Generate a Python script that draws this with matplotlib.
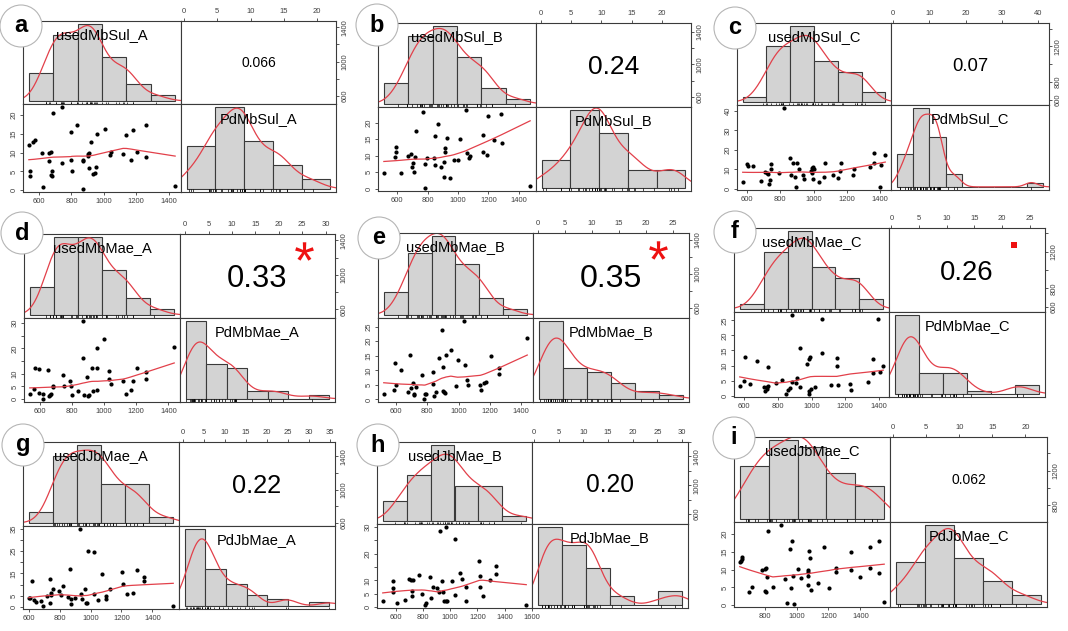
import numpy as np
import matplotlib
matplotlib.use("Agg")
import matplotlib.pyplot as plt
from matplotlib.patches import Circle
from matplotlib.path import Path
from matplotlib.textpath import TextPath
from matplotlib.font_manager import FontProperties
from matplotlib.transforms import ScaledTranslation

plt.rcParams['font.family'] = ['Liberation Sans', 'DejaVu Sans']

#================ DATA =========================================================
# scatter points (used, Pd) for every panel

a_points = [(538, 11.9), (565, 12.7), (573, 13.2), (542, 5.0), (542, 3.9), (623, 0.8),
            (621, 9.9), (662, 9.9), (672, 10.1), (662, 7.7), (672, 4.1), (679, 3.9),
            (683, 5.1), (689, 20.4), (745, 22.0), (745, 7.2), (797, 15.5), (797, 7.9),
            (803, 5.0), (834, 17.4), (869, 0.4), (873, 7.7), (873, 8.1), (900, 9.2),
            (900, 9.7), (907, 10.0), (907, 6.0), (921, 12.8), (932, 4.3), (946, 4.6),
            (952, 6.1), (956, 15.0), (1004, 16.3), (1035, 9.3), (1046, 10.1), (1118, 9.6),
            (1139, 14.7), (1170, 8.1), (1180, 16.1), (1205, 10.1), (1257, 17.4),
            (1257, 8.7), (1439, 1.1)]
b_points = [(513, 4.7), (589, 9.7), (593, 11.1), (593, 12.5), (628, 4.7), (672, 9.9),
            (694, 10.4), (698, 6.4), (705, 7.7), (714, 5.1), (716, 9.7), (727, 17.6),
            (770, 23.1), (781, 0.2), (786, 7.6), (797, 9.2), (840, 9.2), (847, 7.1),
            (851, 16.0), (867, 19.5), (889, 6.5), (906, 3.4), (910, 8.2), (913, 12.3),
            (917, 11.1), (928, 15.2), (950, 3.3), (972, 8.7), (1000, 8.7), (1011, 15.1),
            (1052, 23.8), (1059, 10.8), (1070, 9.2), (1081, 10.0), (1164, 16.3),
            (1164, 11.2), (1190, 10.1), (1197, 22.1), (1238, 14.8), (1284, 22.6),
            (1289, 13.9), (1474, 0.7)]
c_points = [(574, 3.5), (600, 12.7), (606, 11.5), (636, 11.5), (683, 4.0), (709, 8.7),
            (719, 8.0), (725, 7.5), (732, 2.6), (738, 4.5), (742, 12.7), (742, 10.1),
            (790, 8.0), (821, 41.4), (857, 15.8), (863, 7.1), (873, 13.2), (887, 6.3),
            (893, 1.0), (902, 13.2), (912, 10.1), (936, 7.1), (940, 4.9), (985, 9.2),
            (989, 10.6), (989, 8.0), (995, 11.0), (995, 5.2), (1005, 10.1), (1031, 3.5),
            (1060, 6.3), (1070, 13.0), (1118, 7.1), (1149, 5.7), (1157, 8.9), (1167, 13.0),
            (1236, 7.1), (1242, 10.1), (1341, 11.3), (1365, 18.4), (1365, 13.0),
            (1397, 1.0), (1406, 12.2), (1430, 17.6)]
d_points = [(537, 2.0), (564, 4.0), (568, 12.1), (594, 12.0), (596, 2.3), (621, 0.1),
            (621, 2.1), (653, 11.7), (659, 1.3), (663, 1.7), (667, 2.0), (680, 4.6),
            (680, 5.0), (741, 9.6), (747, 5.0), (785, 7.0), (796, 5.0), (800, 1.6),
            (836, 3.3), (867, 30.8), (867, 16.1), (874, 1.7), (895, 8.9), (901, 1.1),
            (905, 1.6), (922, 12.1), (933, 3.1), (954, 3.6), (954, 12.2), (958, 20.2),
            (1000, 23.6), (1032, 11.3), (1032, 8.0), (1042, 6.1), (1116, 7.0), (1133, 2.0),
            (1164, 3.6), (1179, 7.3), (1204, 12.2), (1259, 8.1), (1259, 10.8), (1436, 20.7)]
e_points = [(521, 1.9), (589, 3.4), (596, 12.4), (600, 4.9), (632, 10.1), (674, 2.5),
            (689, 15.1), (696, 3.8), (711, 5.5), (713, 1.5), (717, 1.9), (728, 4.2),
            (764, 8.5), (777, 0.2), (785, 1.9), (791, 1.9), (834, 9.5), (838, 5.4),
            (845, 1.1), (855, 2.5), (877, 14.2), (891, 23.7), (898, 2.9), (902, 11.1),
            (909, 2.5), (915, 2.3), (919, 15.3), (951, 16.9), (983, 4.6), (994, 13.5),
            (1036, 26.9), (1043, 12.0), (1051, 6.6), (1062, 5.0), (1138, 5.0), (1143, 3.4),
            (1164, 5.5), (1174, 5.9), (1211, 14.9), (1260, 10.9), (1260, 8.7), (1440, 21.2)]
f_points = [(574, 3.2), (600, 4.8), (604, 12.8), (634, 3.8), (679, 11.5), (719, 2.9),
            (723, 1.4), (734, 2.9), (738, 2.3), (742, 9.6), (744, 3.2), (788, 4.2),
            (827, 5.3), (851, 0.6), (863, 2.0), (873, 2.5), (887, 26.7), (887, 4.6),
            (906, 4.3), (913, 5.7), (930, 2.9), (932, 15.8), (976, 10.4), (985, 12.2),
            (985, 1.4), (985, 0.6), (991, 12.8), (995, 2.3), (1019, 2.9), (1064, 25.3),
            (1064, 14.1), (1114, 3.7), (1149, 12.4), (1153, 9.8), (1159, 3.7), (1228, 4.0),
            (1236, 2.0), (1335, 4.6), (1365, 12.1), (1365, 7.6), (1395, 25.3), (1406, 7.7),
            (1426, 9.8)]
g_points = [(600, 4.1), (611, 3.8), (618, 11.5), (637, 3.0), (648, 2.3), (677, 2.6),
            (694, 0.4), (721, 4.8), (736, 12.7), (738, 1.6), (743, 5.3), (747, 6.0),
            (754, 8.2), (797, 7.0), (808, 5.3), (819, 9.3), (852, 4.2), (870, 16.8),
            (873, 1.3), (875, 3.3), (900, 4.1), (933, 34.9), (940, 5.7), (946, 3.5),
            (964, 8.2), (973, 1.9), (980, 1.9), (986, 24.9), (1024, 24.5), (1024, 5.7),
            (1046, 3.0), (1075, 14.6), (1101, 5.0), (1101, 3.3), (1123, 8.2), (1204, 15.6),
            (1211, 10.4), (1239, 5.6), (1272, 6.0), (1298, 16.4), (1349, 13.4),
            (1349, 11.5), (1535, 0.5)]
h_points = [(505, 2.4), (578, 9.7), (578, 7.2), (583, 5.6), (607, 1.4), (668, 2.7),
            (700, 10.6), (712, 10.1), (717, 4.0), (722, 6.2), (729, 10.0), (771, 11.9),
            (790, 4.9), (815, 0.8), (820, 1.4), (851, 11.4), (863, 3.3), (876, 7.6),
            (907, 7.2), (917, 5.6), (924, 28.6), (937, 9.7), (949, 5.5), (954, 2.1),
            (968, 30.0), (968, 2.1), (978, 2.1), (1010, 9.7), (1034, 25.5), (1039, 4.6),
            (1071, 12.9), (1090, 10.4), (1115, 7.6), (1120, 2.1), (1212, 17.2),
            (1222, 11.7), (1222, 7.6), (1241, 4.0), (1290, 10.3), (1334, 15.5),
            (1334, 12.3), (1559, 0.9)]
i_points = [(645, 12.0), (655, 12.5), (661, 12.9), (659, 13.4), (703, 3.8), (723, 5.1),
            (786, 9.9), (800, 10.1), (806, 10.3), (804, 4.0), (810, 3.7), (814, 7.9),
            (821, 20.7), (852, 5.2), (904, 22.4), (930, 7.3), (939, 0.7), (961, 15.8),
            (966, 4.9), (972, 17.9), (976, 8.2), (982, 0.4), (1011, 10.1), (1028, 7.7),
            (1073, 8.2), (1075, 9.8), (1075, 9.2), (1075, 5.8), (1080, 15.3), (1086, 13.1),
            (1090, 4.4), (1137, 6.1), (1169, 16.4), (1204, 4.7), (1249, 10.4), (1249, 9.2),
            (1344, 15.0), (1344, 9.8), (1396, 8.0), (1458, 10.3), (1462, 16.4),
            (1514, 17.9), (1514, 8.9), (1549, 0.8)]

# histogram breaks and bar counts (used variable, Pd variable)
used_breaks = [400, 600, 800, 1000, 1200, 1400, 1600]
i_used_breaks = [600, 800, 1000, 1200, 1400, 1600]
a_used_counts = [5, 12, 14, 8, 3, 1]
b_used_counts = [4, 13, 15, 9, 3, 1]
c_used_counts = [1, 11, 15, 8, 6, 2]
d_used_counts = [5, 14, 14, 8, 3, 1]
e_used_counts = [4, 11, 14, 9, 3, 1]
f_used_counts = [1, 11, 15, 8, 6, 2]
g_used_counts = [2, 12, 14, 7, 7, 1]
h_used_counts = [4, 9, 15, 7, 7, 1]
i_used_counts = [8, 12, 11, 7, 5]

a_pd_breaks = [0, 5, 10, 15, 20, 25]
b_pd_breaks = [0, 5, 10, 15, 20, 25]
c_pd_breaks = [0, 5, 10, 15, 20, 25, 30, 35, 40, 45]
d_pd_breaks = [0, 5, 10, 15, 20, 25, 30, 35]
e_pd_breaks = [0, 5, 10, 15, 20, 25, 30]
f_pd_breaks = [0, 5, 10, 15, 20, 25, 30]
g_pd_breaks = [0, 5, 10, 15, 20, 25, 30, 35]
h_pd_breaks = [0, 5, 10, 15, 20, 25, 30]
i_pd_breaks = [0, 5, 10, 15, 20, 25]
a_pd_counts = [9, 17, 10, 5, 2]
b_pd_counts = [6, 17, 12, 4, 4]
c_pd_counts = [8, 19, 12, 3, 0, 0, 0, 0, 1]
d_pd_counts = [20, 9, 8, 2, 2, 0, 1]
e_pd_counts = [20, 8, 7, 4, 2, 1]
f_pd_counts = [26, 7, 7, 1, 0, 3]
g_pd_counts = [21, 10, 6, 3, 2, 0, 1]
h_pd_counts = [17, 13, 8, 2, 0, 3]
i_pd_counts = [9, 17, 10, 5, 2]

letters = ['a', 'b', 'c', 'd', 'e', 'f', 'g', 'h', 'i']
used_names = ['usedMbSul_A', 'usedMbSul_B', 'usedMbSul_C',
              'usedMbMae_A', 'usedMbMae_B', 'usedMbMae_C',
              'usedJbMae_A', 'usedJbMae_B', 'usedJbMae_C']
pd_names = ['PdMbSul_A', 'PdMbSul_B', 'PdMbSul_C',
            'PdMbMae_A', 'PdMbMae_B', 'PdMbMae_C',
            'PdJbMae_A', 'PdJbMae_B', 'PdJbMae_C']
corr_text = ['0.066', '0.24', '0.07', '0.33', '0.35', '0.26', '0.22', '0.20', '0.062']
signif = ['', '', '', '*', '*', '.', '', '', '']

# axis ticks (used axis: bottom + right, Pd axis: top + left)
used_ticks_std = [600, 800, 1000, 1200, 1400]
h_used_ticks = [600, 800, 1000, 1200, 1400, 1600]
i_used_ticks = [800, 1000, 1200, 1400]
right_std = ['600', '', '1000', '', '1400']
right_c = ['600', '800', '', '1200', '']
right_h = ['600', '', '1000', '', '1400', '']
right_i = ['800', '', '1200', '']
pd_ticks_20 = [0, 5, 10, 15, 20]
pd_ticks_25 = [0, 5, 10, 15, 20, 25]
pd_ticks_30 = [0, 5, 10, 15, 20, 25, 30]
pd_ticks_35 = [0, 5, 10, 15, 20, 25, 30, 35]
pd_ticks_40 = [0, 10, 20, 30, 40]
left_d = ['0', '5', '10', '', '20', '', '30']
left_g = ['0', '5', '', '15', '', '25', '', '35']
left_h = ['0', '5', '10', '', '20', '', '30']

points = [a_points, b_points, c_points, d_points, e_points, f_points,
          g_points, h_points, i_points]
u_breaks = [used_breaks] * 8 + [i_used_breaks]
u_counts = [a_used_counts, b_used_counts, c_used_counts, d_used_counts, e_used_counts,
            f_used_counts, g_used_counts, h_used_counts, i_used_counts]
p_breaks = [a_pd_breaks, b_pd_breaks, c_pd_breaks, d_pd_breaks, e_pd_breaks,
            f_pd_breaks, g_pd_breaks, h_pd_breaks, i_pd_breaks]
p_counts = [a_pd_counts, b_pd_counts, c_pd_counts, d_pd_counts, e_pd_counts,
            f_pd_counts, g_pd_counts, h_pd_counts, i_pd_counts]
u_ticks = [used_ticks_std] * 7 + [h_used_ticks, i_used_ticks]
r_labels = [right_std, right_std, right_c, right_std, right_std, right_c,
            right_std, right_h, right_i]
p_ticks = [pd_ticks_20, pd_ticks_20, pd_ticks_40, pd_ticks_30, pd_ticks_25,
           pd_ticks_25, pd_ticks_35, pd_ticks_30, pd_ticks_20]
l_labels = [None, None, None, left_d, None, None, left_g, left_h, None]

#================ LAYOUT (pixels) ==============================================
W, H = 1068, 631
# left, middle, right, top, middle, bottom of each 2x2 block
cells = [(23, 181, 336, 21, 104, 192), (378, 536, 691, 23, 107, 191),
         (737, 891, 1049, 23, 105, 190), (24, 180, 335, 234, 318, 402),
         (378, 533, 689, 233, 318, 402), (734, 889, 1045, 228, 312, 397),
         (23, 179, 335, 442, 526, 609), (377, 532, 688, 442, 524, 608),
         (734, 890, 1047, 437, 522, 607)]
badges = [(21, 26), (377, 25), (735, 28), (22, 233), (379, 238), (735, 232),
          (23, 445), (378, 445), (734, 438)]

RED = '#e2404a'
FRAME = '#3a3a3a'
TICKC = '#404040'

#================ helpers ======================================================

def nrd0(x):
	hi = np.std(x, ddof=1)
	iqr = np.subtract(*np.percentile(x, [75, 25]))
	lo = min(hi, iqr / 1.34)
	return 0.9 * lo * len(x) ** -0.2

def kde(x, grid, bw):
	z = (grid[:, None] - x[None, :]) / bw
	return np.exp(-0.5 * z ** 2).sum(axis=1) / (len(x) * bw * np.sqrt(2 * np.pi))

def lowess(x, y, f=2.0 / 3.0, iters=3):
	order = np.argsort(x, kind='stable')
	x = x[order]
	y = y[order]
	n = len(x)
	ns = max(min(int(f * n + 1e-7), n), 2)
	dist = np.abs(x[:, None] - x[None, :])
	h = np.maximum(np.sort(dist, axis=1)[:, ns - 1], 1e-9)
	u = np.clip(dist / h[:, None], 0, 1)
	w = (1 - u ** 3) ** 3
	robust = np.ones(n)
	fit = np.zeros(n)
	for it in range(iters + 1):
		for k in range(n):
			wk = w[k] * robust
			sw = wk.sum()
			xm = (wk * x).sum() / sw
			ym = (wk * y).sum() / sw
			sxx = (wk * (x - xm) ** 2).sum()
			b = (wk * (x - xm) * (y - ym)).sum() / sxx if sxx > 0 else 0.0
			fit[k] = ym + b * (x[k] - xm)
		res = y - fit
		s = np.median(np.abs(res))
		if s == 0:
			break
		r = np.clip(res / (6 * s), -1, 1)
		robust = (1 - r ** 2) ** 2
	return x, fit

def padded(lo, hi):
	d = 0.04 * (hi - lo)
	return lo - d, hi + d

def px_axes(fig, x0, y0, x1, y1):
	return fig.add_axes([x0 / W, 1 - y1 / H, (x1 - x0) / W, (y1 - y0) / H])

def frame(ax):
	for sp in ax.spines.values():
		sp.set_color(FRAME)
		sp.set_linewidth(0.8)

def ink_marker(ch):
	# glyph outline centred on its ink box, usable as a marker
	tp = TextPath((0, 0), ch, size=10, prop=FontProperties(family='Liberation Sans'))
	v = tp.vertices.copy()
	codes = tp.codes
	start = v[0].copy()
	for k, c in enumerate(codes):
		if c == Path.MOVETO:
			start = v[k].copy()
		elif c == Path.CLOSEPOLY:
			v[k] = start
	lo = v.min(axis=0)
	hi = v.max(axis=0)
	return Path(v - (lo + hi) / 2, codes)

def diag_hist(ax, vals, breaks, counts, name):
	breaks = np.asarray(breaks, float)
	counts = np.asarray(counts, float)
	wid = np.diff(breaks)
	dens = counts / (counts.sum() * wid)
	ax.bar(breaks[:-1], dens, width=wid, align='edge', color='#d3d3d3',
		   edgecolor=FRAME, linewidth=0.8)
	bw = nrd0(vals)
	grid = np.linspace(vals.min() - 3 * bw, vals.max() + 3 * bw, 512)
	ax.plot(grid, kde(vals, grid, bw), color=RED, lw=0.9)
	ax.set_xlim(*padded(breaks[0], breaks[-1]))
	top = dens.max()
	ax.set_ylim(-0.04 * top, 1.04 * top)
	ax.vlines(vals, -0.04 * top, -0.04 * top + 0.03 * 1.08 * top, color='k', lw=0.5)
	ax.text(0.5, 0.833, name, transform=ax.transAxes, ha='center', va='center',
			fontsize=10.5, zorder=5)
	ax.set_xticks([])
	ax.set_yticks([])
	frame(ax)

def style_ticks(ax):
	ax.tick_params(direction='out', length=2.5, width=0.6, labelsize=5.5,
				   colors=FRAME, labelcolor=TICKC, pad=1.5)

#================ PLOTTING =====================================================

fig = plt.figure(figsize=(W / 100, H / 100), dpi=100)
renderer = fig.canvas.get_renderer()
star = ink_marker('*')

for n in range(9):
	pts = np.array(points[n], float)
	used, pd = pts[:, 0], pts[:, 1]
	L, M, R, T, Mh, B = cells[n]

	ax_tl = px_axes(fig, L, T, M, Mh)
	ax_tr = px_axes(fig, M, T, R, Mh)
	ax_bl = px_axes(fig, L, Mh, M, B)
	ax_br = px_axes(fig, M, Mh, R, B)

	# diagonal histograms
	diag_hist(ax_tl, used, u_breaks[n], u_counts[n], used_names[n])
	diag_hist(ax_br, pd, p_breaks[n], p_counts[n], pd_names[n])

	# scatter + smoother
	ax_bl.scatter(used, pd, s=9, color='k', linewidths=0, zorder=3)
	sx, sy = lowess(used, pd)
	ax_bl.plot(sx, sy, color=RED, lw=0.9, zorder=4)
	ax_bl.set_xlim(*padded(used.min(), used.max()))
	ax_bl.set_ylim(*padded(pd.min(), pd.max()))
	ax_bl.set_xticks(u_ticks[n])
	ax_bl.set_xticklabels([str(t) for t in u_ticks[n]])
	ax_bl.set_yticks(p_ticks[n])
	left = l_labels[n] if l_labels[n] is not None else [str(t) for t in p_ticks[n]]
	ax_bl.set_yticklabels(left, rotation=90, va='center')
	style_ticks(ax_bl)
	frame(ax_bl)

	# correlation cell
	ax_tr.set_xlim(*padded(pd.min(), pd.max()))
	ax_tr.set_ylim(*padded(used.min(), used.max()))
	ax_tr.xaxis.tick_top()
	ax_tr.set_xticks(p_ticks[n])
	ax_tr.set_xticklabels([str(t) for t in p_ticks[n]])
	ax_tr.yaxis.tick_right()
	ax_tr.set_yticks(u_ticks[n])
	ax_tr.set_yticklabels(r_labels[n], rotation=90, va='center')
	style_ticks(ax_tr)
	frame(ax_tr)

	r = float(corr_text[n])
	target = 0.8 * (R - M) * (abs(r) + 0.3) / 1.3
	t = ax_tr.text(0.5, 0.5, corr_text[n], transform=ax_tr.transAxes,
				   ha='center', va='baseline', fontsize=10)
	wpx = t.get_window_extent(renderer).width
	fs = 10 * target / wpx
	t.set_fontsize(fs)
	t.set_transform(ax_tr.transAxes +
					ScaledTranslation(0, -0.355 * fs / 72, fig.dpi_scale_trans))
	if signif[n] == '*':
		ax_tr.plot([0.8], [0.8], transform=ax_tr.transAxes, marker=star, ms=13.5,
				   color='#ee1111', mew=0, ls='none')
	elif signif[n] == '.':
		ax_tr.plot([0.8], [0.8], transform=ax_tr.transAxes, marker='s', ms=5,
				   color='#ee1111', mew=0, ls='none')

# letter badges on top of everything
over = fig.add_axes([0, 0, 1, 1])
over.set_xlim(0, W)
over.set_ylim(H, 0)
over.axis('off')
over.patch.set_alpha(0)
over.set_zorder(10)
for n in range(9):
	cx, cy = badges[n]
	over.add_patch(Circle((cx, cy), 21, facecolor='white', edgecolor='#b5b5b5', lw=0.8))
	over.text(cx, cy, letters[n], ha='center', va='center', fontsize=17,
			  fontweight='bold', color='black')

fig.savefig('out.png', dpi=100)
